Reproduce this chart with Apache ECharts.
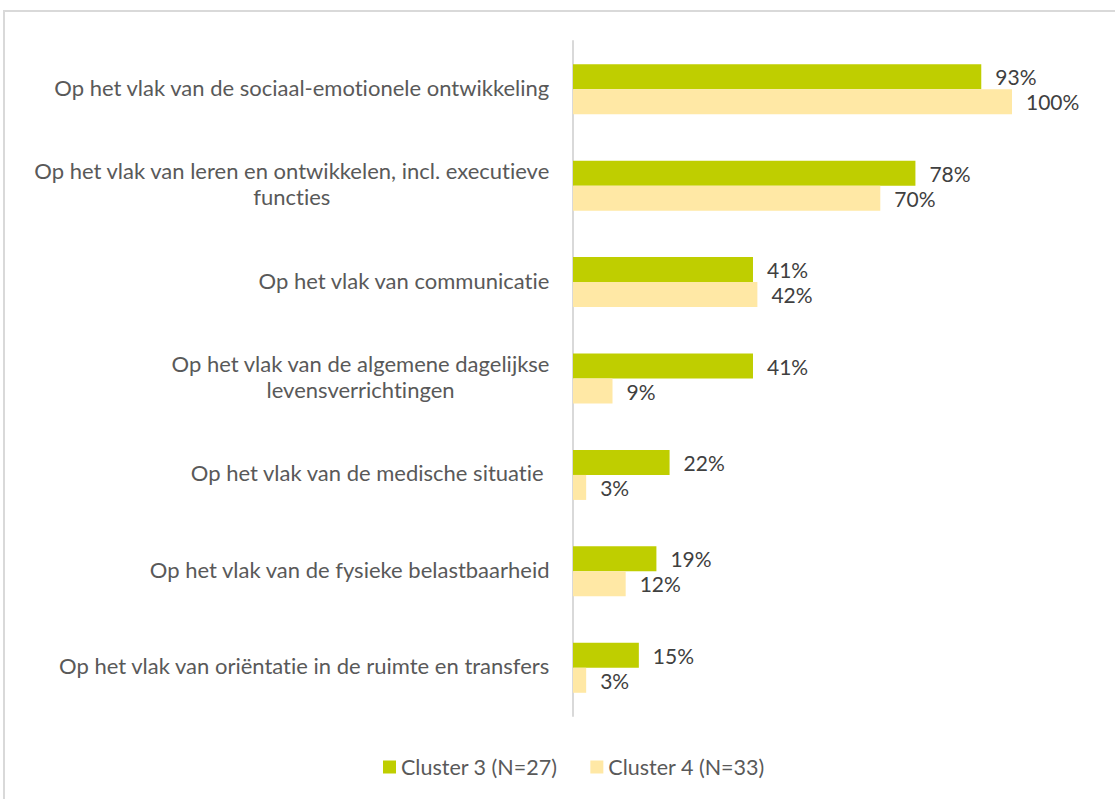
<!DOCTYPE html>
<html>
<head>
<meta charset="utf-8">
<script src="https://cdn.jsdelivr.net/npm/echarts@6/dist/echarts.min.js"></script>
<style>
  html, body { margin: 0; padding: 0; background: #ffffff; }
  #chart { width: 1115px; height: 799px; }
  #chart text { font-variant-ligatures: none; }
</style>
</head>
<body>
<div id="chart"></div>
<script>
var categories = [
    'Op het vlak van de sociaal-emotionele ontwikkeling',
    'Op het vlak van leren en ontwikkelen, incl. executieve\nfuncties',
    'Op het vlak van communicatie',
    'Op het vlak van de algemene dagelijkse\nlevensverrichtingen',
    'Op het vlak van de medische situatie ',
    'Op het vlak van de fysieke belastbaarheid',
    'Op het vlak van oriëntatie in de ruimte en transfers'
]
var seriesNames = ['Cluster 3 (N=27)', 'Cluster 4 (N=33)']
var cluster3 = [93, 78, 41, 41, 22, 19, 15]
var cluster4 = [100, 70, 42, 9, 3, 12, 3]

var myChart = echarts.init(document.getElementById('chart'), null, { renderer: 'svg' })

var fontName = 'Lato'

var option = {
    backgroundColor: '#ffffff',
    animation: false,
    graphic: [
        {
            type: 'rect',
            shape: { x: 4, y: 11, width: 1300, height: 900 },
            style: { fill: 'none', stroke: '#d9d9d9', lineWidth: 2 },
            silent: true
        }
    ],
    grid: {
        left: 573,
        right: 103,
        top: 41,
        bottom: 83
    },
    legend: {
        data: seriesNames,
        top: 751,
        left: 378,
        icon: 'rect',
        itemWidth: 13,
        itemHeight: 13,
        itemGap: 33,
        textStyle: { fontFamily: fontName, fontSize: 21.5, color: '#595959' }
    },
    xAxis: {
        type: 'value',
        min: 0,
        max: 100,
        show: false
    },
    yAxis: {
        type: 'category',
        data: categories,
        inverse: true,
        axisTick: { show: false },
        axisLine: { lineStyle: { color: '#d9d9d9', width: 2 } },
        axisLabel: {
            margin: 23,
            fontFamily: fontName,
            fontSize: 22,
            color: '#595959',
            lineHeight: 26,
            padding: [0, 0, 4, 0],
            formatter: function (v) {
                return v.split('\n').map(function (l) { return '{c|' + l + '}' }).join('\n')
            },
            rich: {
                c: { align: 'center', fontFamily: fontName, fontSize: 22, color: '#595959', lineHeight: 26 }
            }
        }
    },
    series: [
        {
            name: seriesNames[0],
            type: 'bar',
            data: cluster3,
            barWidth: 25,
            barGap: '0%',
            itemStyle: { color: '#bfce00' },
            label: {
                show: true,
                position: 'right',
                distance: 14,
                formatter: '{c}%',
                fontFamily: fontName,
                fontSize: 21,
                color: '#404040'
            }
        },
        {
            name: seriesNames[1],
            type: 'bar',
            data: cluster4,
            barWidth: 25,
            barGap: '0%',
            itemStyle: { color: '#ffe8a5' },
            label: {
                show: true,
                position: 'right',
                distance: 14,
                formatter: '{c}%',
                fontFamily: fontName,
                fontSize: 21,
                color: '#404040'
            }
        }
    ]
}

myChart.setOption(option);
</script>
</body>
</html>
